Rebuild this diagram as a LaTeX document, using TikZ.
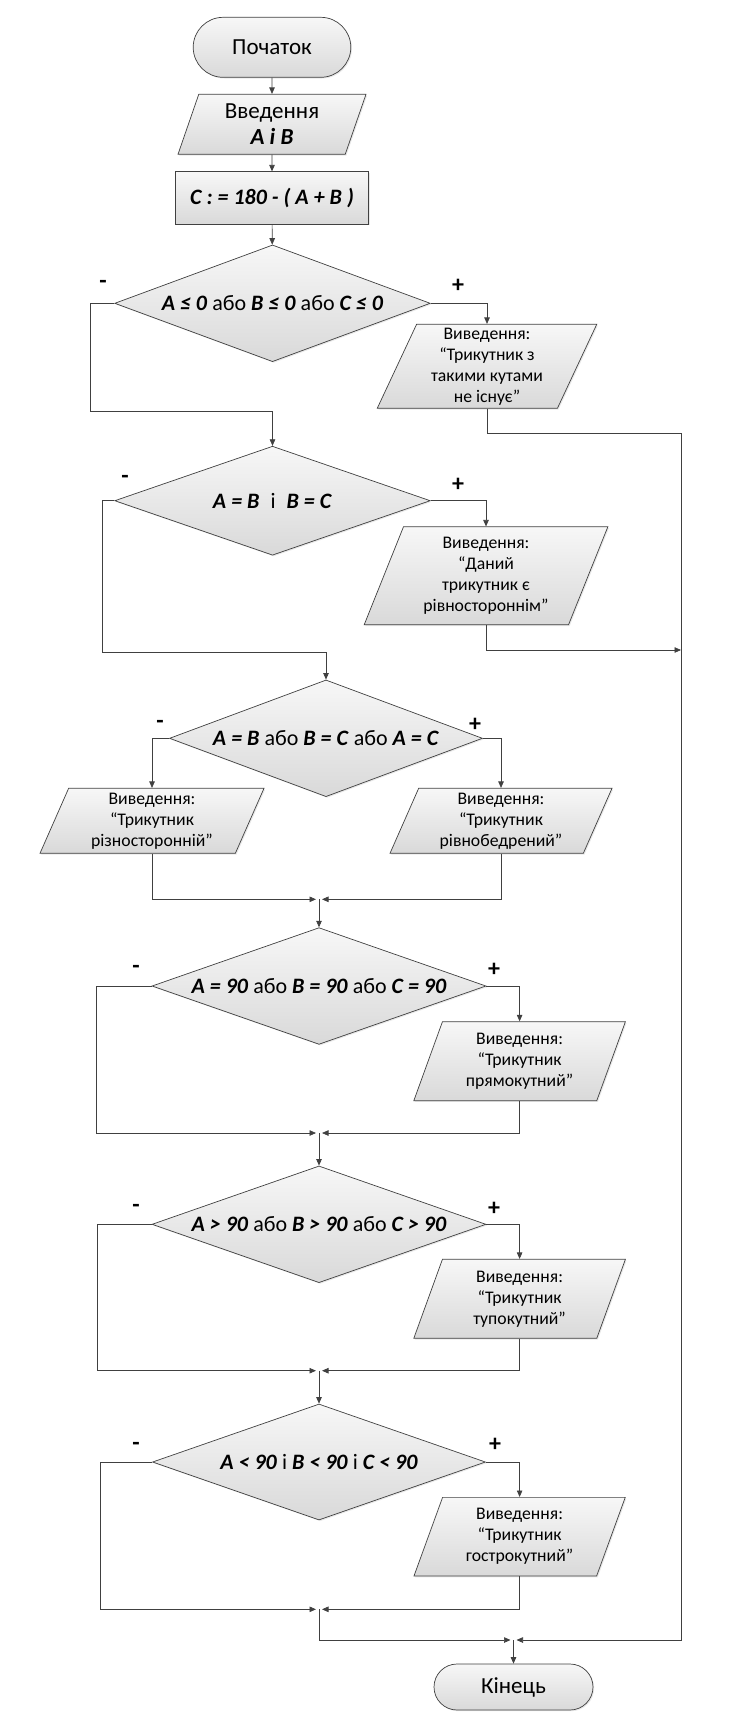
\documentclass[tikz,border=0pt]{standalone}
\usepackage{fontspec}
\setmainfont{Carlito}
\usetikzlibrary{shapes.geometric,shapes.misc,arrows.meta,shadows,calc}
\definecolor{lc}{HTML}{404040}
\definecolor{fillTop}{HTML}{F7F7F7}
\definecolor{fillBot}{HTML}{D9D9D9}
\newcommand{\bxi}[1]{\textbf{\textit{#1}}}
\begin{document}
\begin{tikzpicture}[x=1pt,y=-1pt,
  base/.style={draw=lc, line width=0.7pt, top color=fillTop, bottom color=fillBot,
    drop shadow={opacity=0.18, shadow xshift=1.2pt, shadow yshift=-1.2pt},
    align=center, inner sep=0pt, text=black},
  term/.style={base, rounded rectangle, font=\fontsize{23}{27}\selectfont},
  proc/.style={base, rectangle, font=\fontsize{22}{26}\selectfont},
  io/.style={base, trapezium, trapezium left angle=63, trapezium right angle=117,
    trapezium stretches body, font=\fontsize{17.7}{21}\selectfont},
  iotop/.style={io, font=\fontsize{23}{26}\selectfont},
  dec/.style={base, diamond, aspect=2.8, font=\fontsize{22}{26}\selectfont},
  arr/.style={draw=lc, line width=0.7pt, -{Triangle[length=6.5pt,width=5.5pt]}},
  mrg/.style={arr, shorten >=3pt},
  lnk/.style={draw=lc, line width=0.7pt},
  lbl/.style={font=\fontsize{24}{26}\selectfont\bfseries, inner sep=0pt}
]
\useasboundingbox (0,0) rectangle (745,1722);

% nodes
\node[term, minimum width=157.6pt, minimum height=60pt] (start) at (272,47.3) {Початок};
\node[iotop, minimum width=188pt, minimum height=60pt] (in) at (272,124.3) {Введення\\\bxi{A і B}};
\node[proc, minimum width=192.7pt, minimum height=52.3pt] (pr) at (272,197.9) {\bxi{C : = 180 - ( A + B )}};

\node[dec, minimum width=315.6pt, minimum height=116.7pt] (d1) at (272.5,303.3)
  {\bxi{A ≤ 0} або \bxi{B ≤ 0} або \bxi{C ≤ 0}};
\node[io, minimum width=219.5pt, minimum height=84pt] (o1) at (487,366.3)
  {Виведення:\\“Трикутник з\\такими кутами\\не існує”};

\node[dec, minimum width=315.6pt, minimum height=109pt] (d2) at (272.5,500.7)
  {\bxi{A = B}\hspace{11pt}і\hspace{11pt}\bxi{B = C}};
\node[io, minimum width=243.7pt, minimum height=98pt] (o2) at (486,575.8)
  {Виведення:\\“Даний\\трикутник є\\рівностороннім”};

\node[dec, minimum width=313pt, minimum height=116.7pt] (d3) at (326,738.3)
  {\bxi{A = B} або \bxi{B = C} або \bxi{A = C}};
\node[io, minimum width=224pt, minimum height=65pt] (o3) at (152,820.8)
  {Виведення:\\“Трикутник\\різносторонній”};
\node[io, minimum width=222pt, minimum height=65pt] (o4) at (501,820.8)
  {Виведення:\\“Трикутник\\рівнобедрений”};

\node[dec, minimum width=334pt, minimum height=116.7pt] (d4) at (319,986)
  {\bxi{A = 90} або \bxi{B = 90} або \bxi{C = 90}};
\node[io, minimum width=211.6pt, minimum height=79pt] (o5) at (519.6,1061.2)
  {Виведення:\\“Трикутник\\прямокутний”};

\node[dec, minimum width=334pt, minimum height=116.7pt] (d5) at (319,1224.3)
  {\bxi{A > 90} або \bxi{B > 90} або \bxi{C > 90}};
\node[io, minimum width=211.6pt, minimum height=79pt] (o6) at (519.6,1298.8)
  {Виведення:\\“Трикутник\\тупокутний”};

\node[dec, minimum width=333pt, minimum height=116pt] (d6) at (319,1462)
  {\bxi{A < 90} і \bxi{B < 90} і \bxi{C < 90}};
\node[io, minimum width=211.3pt, minimum height=78.7pt] (o7) at (519.6,1536.7)
  {Виведення:\\“Трикутник\\гострокутний”};

\node[term, minimum width=159pt, minimum height=46pt] (end) at (513.5,1687) {Кінець};

% labels
\node[lbl] (l1m) at (103,284) {-};
\node[lbl] (l1p) at (458,286) {+};
\node[lbl] (l2m) at (125,479) {-};
\node[lbl] (l2p) at (458,485) {+};
\node[lbl] (l3m) at (160,724) {-};
\node[lbl] (l3p) at (475,725) {+};
\node[lbl] (l4m) at (136,969) {-};
\node[lbl] (l4p) at (494,970) {+};
\node[lbl] (l5m) at (136,1208) {-};
\node[lbl] (l5p) at (494,1209) {+};
\node[lbl] (l6m) at (136,1446) {-};
\node[lbl] (l6p) at (495,1445) {+};

% junction coordinates
\coordinate (j1) at (90,411);
\coordinate (j2) at (102,652.7);
\coordinate (r1) at (681,433.3);
\coordinate (r2) at (681,650);
\coordinate (m3) at (319,899.3);
\coordinate (n4) at (96.5,1133);
\coordinate (m4) at (319,1133);
\coordinate (n5) at (97.7,1370.7);
\coordinate (m5) at (319,1370.7);
\coordinate (n6) at (100.2,1609.3);
\coordinate (m6) at (319,1609.3);
\coordinate (m7) at (513.5,1640);

% connectors
\draw[arr] (start) -- (in);
\draw[arr] (in) -- (pr);
\draw[arr] (pr) -- (d1);
\draw[arr] (d1.west) -| (j1) -| (d2.north);
\draw[arr] (d1.east) -| (o1.north);
\draw[lnk] (o1.south) |- (r1);
\draw[mrg] (r1) |- (m7);
\draw[arr] (d2.west) -| (j2) -| (d3.north);
\draw[arr] (d2.east) -| (o2.north);
\draw[arr] (o2.south) |- (r2);
\draw[arr] (d3.west) -| (o3.north);
\draw[arr] (d3.east) -| (o4.north);
\draw[mrg] (o3.south) |- (m3);
\draw[mrg] (o4.south) |- (m3);
\draw[arr] (m3) -- (d4.north);
\draw[mrg] (d4.west) -| (n4) -- (m4);
\draw[arr] (d4.east) -| (o5.north);
\draw[mrg] (o5.south) |- (m4);
\draw[arr] (m4) -- (d5.north);
\draw[mrg] (d5.west) -| (n5) -- (m5);
\draw[arr] (d5.east) -| (o6.north);
\draw[mrg] (o6.south) |- (m5);
\draw[arr] (m5) -- (d6.north);
\draw[mrg] (d6.west) -| (n6) -- (m6);
\draw[arr] (d6.east) -| (o7.north);
\draw[mrg] (o7.south) |- (m6);
\draw[mrg] (m6) |- (m7);
\draw[arr] (m7) -- (end.north);
\end{tikzpicture}
\end{document}
